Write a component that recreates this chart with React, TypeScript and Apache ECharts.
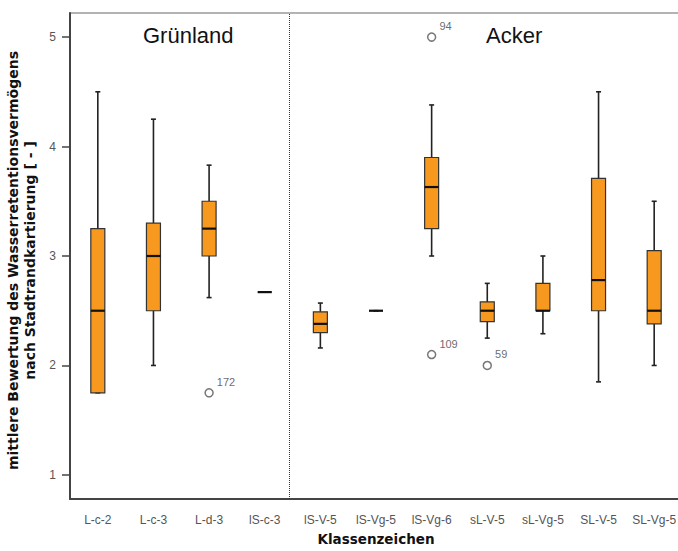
import React, { useEffect, useRef } from "react";
import * as echarts from "echarts";

const categories = ["L-c-2", "L-c-3", "L-d-3", "lS-c-3", "lS-V-5", "lS-Vg-5", "lS-Vg-6", "sL-V-5", "sL-Vg-5", "SL-V-5", "SL-Vg-5"];
const whiskerLow = [1.75, 2.0, 2.62, 2.67, 2.16, 2.5, 3.0, 2.25, 2.29, 1.85, 2.0];
const quartile1 = [1.75, 2.5, 3.0, 2.67, 2.3, 2.5, 3.25, 2.4, 2.5, 2.5, 2.38];
const medians = [2.5, 3.0, 3.25, 2.67, 2.38, 2.5, 3.63, 2.5, 2.5, 2.78, 2.5];
const quartile3 = [3.25, 3.3, 3.5, 2.67, 2.49, 2.5, 3.9, 2.58, 2.75, 3.71, 3.05];
const whiskerHigh = [4.5, 4.25, 3.83, 2.67, 2.57, 2.5, 4.38, 2.75, 3.0, 4.5, 3.5];

const outlierCats = ["L-d-3", "lS-Vg-6", "lS-Vg-6", "sL-V-5"];
const outlierValues = [1.75, 5.0, 2.1, 2.0];
const outlierIds = ["172", "94", "109", "59"];

const yTicks = [1, 2, 3, 4, 5];
const groupSeparator = 3.94;

export default function App() {
  const ref = useRef<HTMLDivElement>(null);
  useEffect(() => {
    if (!ref.current) return;
    const chart = echarts.init(ref.current, null, { renderer: "svg" });
    const boxData = categories.map((c, i) => [i, whiskerLow[i], quartile1[i], medians[i], quartile3[i], whiskerHigh[i]]);
    const labelFont = "'Liberation Sans', Arial, sans-serif";
    const titleFont = "'DejaVu Sans', sans-serif";
    chart.setOption({
      animation: false,
      grid: {
        left: 70,
        top: 13,
        width: 612,
        height: 486,
        outerBoundsMode: "none",
        containLabel: false,
        show: true,
        borderColor: "#9a9a9a",
        borderWidth: 1.5,
        backgroundColor: "transparent",
      },
      xAxis: [
        {
          type: "category",
          data: categories,
          name: "Klassenzeichen",
          nameLocation: "middle",
          nameGap: 33,
          nameTextStyle: { fontFamily: titleFont, fontWeight: "bold", fontSize: 13.5, color: "#111" },
          axisLine: { lineStyle: { color: "#444", width: 2 } },
          axisTick: { alignWithLabel: true, length: 7, lineStyle: { color: "#444", width: 1.5 } },
          axisLabel: { fontFamily: labelFont, fontSize: 12, color: "#555", margin: 15, interval: 0 },
          splitLine: { show: false },
        },
        { type: "value", min: 0, max: 11, show: false },
      ],
      yAxis: {
        type: "value",
        min: 0.78,
        max: 5.22,
        name: "mittlere Bewertung des Wasserretentionsvermögens\nnach Stadtrandkartierung [ - ]",
        nameLocation: "middle",
        nameRotate: 90,
        nameGap: 26,
        nameTextStyle: { fontFamily: titleFont, fontWeight: "bold", fontSize: 14, color: "#111", lineHeight: 17, padding: [0, 9, 0, 0] },
        axisLine: { show: true, lineStyle: { color: "#444", width: 2 } },
        axisTick: { show: true, length: 8, customValues: yTicks, lineStyle: { color: "#444", width: 1.5 } },
        axisLabel: { fontFamily: labelFont, fontSize: 12, color: "#555", margin: 14, customValues: yTicks },
        splitLine: { show: false },
      },
      graphic: [
        { type: "text", left: 143, top: 24, style: { text: "Grünland", font: "22px 'Liberation Sans', Arial, sans-serif", fill: "#111" } },
        { type: "text", left: 486, top: 24, style: { text: "Acker", font: "22px 'Liberation Sans', Arial, sans-serif", fill: "#111" } },
      ],
      series: [
        {
          type: "scatter",
          xAxisIndex: 1,
          data: [[groupSeparator, 3]],
          symbolSize: 0,
          silent: true,
          markLine: {
            silent: true,
            symbol: "none",
            label: { show: false },
            lineStyle: { type: "dotted", color: "#333", width: 1 },
            data: [{ xAxis: groupSeparator }],
          },
        },
        {
          type: "custom",
          xAxisIndex: 0,
          data: boxData,
          encode: { x: 0, y: [1, 2, 3, 4, 5] },
          renderItem: (params: any, api: any) => {
            const i = api.value(0);
            const lo = api.coord([i, api.value(1)]);
            const q1 = api.coord([i, api.value(2)]);
            const md = api.coord([i, api.value(3)]);
            const q3 = api.coord([i, api.value(4)]);
            const hi = api.coord([i, api.value(5)]);
            const x = lo[0];
            const hw = 7;
            const cap = 2.5;
            const ws = { stroke: "#222", lineWidth: 1.6 };
            return {
              type: "group",
              children: [
                { type: "line", shape: { x1: x, y1: q3[1], x2: x, y2: hi[1] }, style: ws },
                { type: "line", shape: { x1: x, y1: q1[1], x2: x, y2: lo[1] }, style: ws },
                { type: "line", shape: { x1: x - cap, y1: hi[1], x2: x + cap, y2: hi[1] }, style: ws },
                { type: "line", shape: { x1: x - cap, y1: lo[1], x2: x + cap, y2: lo[1] }, style: ws },
                { type: "rect", shape: { x: x - hw, y: q3[1], width: 2 * hw, height: q1[1] - q3[1] }, style: { fill: "#F7991F", stroke: "#333", lineWidth: 1.2 } },
                { type: "line", shape: { x1: x - hw, y1: md[1], x2: x + hw, y2: md[1] }, style: { stroke: "#111", lineWidth: 2.2 } },
              ],
            };
          },
        },
        {
          type: "scatter",
          xAxisIndex: 0,
          data: outlierCats.map((c, i) => [c, outlierValues[i]]),
          symbol: "circle",
          symbolSize: 8,
          itemStyle: { color: "#fff", borderColor: "#555", borderWidth: 1.5 },
          label: {
            show: true,
            position: "right",
            distance: 3,
            offset: [0, -11],
            formatter: (p: any) => outlierIds[p.dataIndex],
            fontFamily: labelFont,
            fontSize: 11,
            color: "#444",
          },
        },
      ],
    });
    return () => chart.dispose();
  }, []);
  return <div ref={ref} style={{ position: "absolute", left: 0, top: 0, width: 678, height: 551 }} />;
}
